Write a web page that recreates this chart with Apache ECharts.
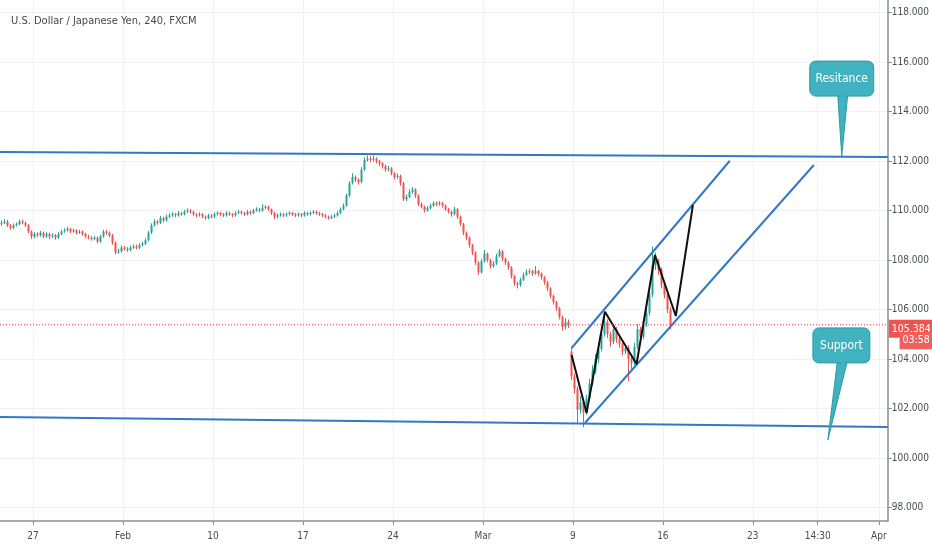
<!DOCTYPE html>
<html><head><meta charset="utf-8">
<script src="https://cdn.jsdelivr.net/npm/echarts@6/dist/echarts.min.js"></script>
<style>html,body{margin:0;padding:0;background:#fff}#c{width:932px;height:550px}</style>
</head><body><div id="c"></div>
<script>
const chartTitle = 'U.S. Dollar / Japanese Yen, 240, FXCM';
// x axis in trading days since Mon 27 Jan (weekends removed)
const xTickValues = [0, 5, 10, 15, 20, 25, 30, 35, 40, 43.604, 47];
const xTickLabels = ['27', 'Feb', '10', '17', '24', 'Mar', '9', '16', '23', '14:30', 'Apr'];
const yTickValues = [98, 100, 102, 104, 106, 108, 110, 112, 114, 116, 118];
const xRange = [-1.8333, 47.5];
const candleStart = -1.75;      // time of first 4h candle (trading days)
const candleStep = 1 / 6;       // 4 hours

const opens = [109.45,109.50,109.55,109.40,109.30,109.40,109.45,109.55,109.50,109.40,109.15,108.95,109.05,109.00,109.10,108.95,109.05,108.95,109.00,108.90,
109.05,109.15,109.20,109.25,109.15,109.20,109.10,109.15,109.05,108.95,108.90,108.85,108.90,108.75,108.95,109.15,109.10,109.00,108.70,108.30,
108.35,108.50,108.45,108.40,108.50,108.55,108.50,108.60,108.65,108.80,109.10,109.40,109.55,109.50,109.70,109.60,109.75,109.80,109.85,109.80,
109.90,109.85,109.95,110.00,109.95,109.85,109.80,109.85,109.75,109.70,109.80,109.75,109.85,109.90,109.85,109.80,109.90,109.85,109.80,109.90,
109.95,109.90,109.85,109.95,109.90,110.00,110.05,110.00,110.10,110.15,110.05,109.90,109.75,109.80,109.85,109.80,109.85,109.90,109.85,109.80,
109.85,109.80,109.90,109.85,109.90,109.95,109.90,109.85,109.80,109.75,109.70,109.75,109.80,109.90,110.05,110.20,110.60,111.10,111.35,111.25,
111.15,111.65,112.05,112.10,112.05,112.10,112.00,111.90,111.80,111.65,111.70,111.50,111.35,111.40,111.10,110.45,110.55,110.75,110.85,110.60,
110.25,110.15,110.00,110.10,110.20,110.30,110.25,110.30,110.20,110.05,109.95,109.85,110.05,109.75,109.45,109.10,108.90,108.60,108.30,107.90,
107.50,107.95,108.25,108.00,107.75,107.85,108.15,108.35,108.05,107.90,107.70,107.35,107.05,107.00,107.20,107.40,107.50,107.55,107.45,107.55,
107.45,107.30,107.10,106.85,106.55,106.30,106.05,105.70,105.30,105.50,104.30,103.30,102.80,101.95,102.25,101.85,102.40,103.00,103.50,104.00,
104.40,105.00,105.50,105.00,104.70,105.20,104.80,104.60,104.30,104.45,104.00,103.85,104.50,105.20,104.90,105.40,105.85,106.60,107.80,107.95,
107.60,107.00,106.60,106.00];
const closes = [109.50,109.55,109.40,109.30,109.40,109.45,109.55,109.50,109.40,109.15,108.95,109.05,109.00,109.10,108.95,109.05,108.95,109.00,108.90,109.05,
109.15,109.20,109.25,109.15,109.20,109.10,109.15,109.05,108.95,108.90,108.85,108.90,108.75,108.95,109.15,109.10,109.00,108.70,108.30,108.35,
108.50,108.45,108.40,108.50,108.55,108.50,108.60,108.65,108.80,109.10,109.40,109.55,109.50,109.70,109.60,109.75,109.80,109.85,109.80,109.90,
109.85,109.95,110.00,109.95,109.85,109.80,109.85,109.75,109.70,109.80,109.75,109.85,109.90,109.85,109.80,109.90,109.85,109.80,109.90,109.95,
109.90,109.85,109.95,109.90,110.00,110.05,110.00,110.10,110.15,110.05,109.90,109.75,109.80,109.85,109.80,109.85,109.90,109.85,109.80,109.85,
109.80,109.90,109.85,109.90,109.95,109.90,109.85,109.80,109.75,109.70,109.75,109.80,109.90,110.05,110.20,110.60,111.10,111.35,111.25,111.15,
111.65,112.05,112.10,112.05,112.10,112.00,111.90,111.80,111.65,111.70,111.50,111.35,111.40,111.10,110.45,110.55,110.75,110.85,110.60,110.25,
110.15,110.00,110.10,110.20,110.30,110.25,110.30,110.20,110.05,109.95,109.85,110.05,109.75,109.45,109.10,108.90,108.60,108.30,107.90,107.50,
107.95,108.25,108.00,107.75,107.85,108.15,108.35,108.05,107.90,107.70,107.35,107.05,107.00,107.20,107.40,107.50,107.55,107.45,107.55,107.45,
107.30,107.10,106.85,106.55,106.30,106.05,105.70,105.30,105.50,105.40,103.30,102.80,101.95,102.25,101.85,102.40,103.00,103.50,104.00,104.40,
105.00,105.50,105.00,104.70,105.20,104.80,104.60,104.30,104.45,104.00,103.85,104.50,105.20,104.90,105.40,105.85,106.60,107.80,107.95,107.60,
107.00,106.60,106.00,105.384];
const highs = [109.60,109.65,109.62,109.45,109.48,109.52,109.64,109.62,109.55,109.45,109.20,109.12,109.12,109.18,109.15,109.12,109.10,109.08,109.05,109.12,
109.22,109.28,109.33,109.30,109.27,109.25,109.22,109.20,109.10,109.02,108.97,108.98,108.95,109.02,109.22,109.22,109.15,109.05,108.75,108.45,
108.58,108.57,108.52,108.58,108.63,108.62,108.68,108.73,108.88,109.18,109.48,109.65,109.62,109.78,109.75,109.83,109.88,109.93,109.90,109.98,
109.95,110.03,110.08,110.06,110.00,109.90,109.93,109.90,109.80,109.87,109.86,109.92,109.97,109.95,109.90,109.97,109.95,109.90,109.97,110.02,
110.00,109.95,110.02,110.00,110.07,110.13,110.10,110.25,110.22,110.20,110.08,109.95,109.88,109.92,109.90,109.92,109.97,109.95,109.90,109.92,
109.90,109.97,109.95,109.97,110.02,110.00,109.95,109.90,109.85,109.80,109.82,109.87,109.97,110.12,110.28,110.68,111.18,111.50,111.42,111.30,
111.75,112.15,112.22,112.20,112.22,112.15,112.05,111.95,111.85,111.80,111.75,111.55,111.50,111.45,111.15,110.65,110.85,110.95,110.90,110.65,
110.32,110.20,110.18,110.28,110.38,110.37,110.38,110.35,110.25,110.10,110.00,110.15,110.10,109.80,109.50,109.15,108.95,108.65,108.35,107.95,
108.05,108.40,108.30,108.05,107.95,108.25,108.45,108.40,108.10,107.95,107.75,107.40,107.12,107.28,107.50,107.62,107.65,107.60,107.75,107.60,
107.50,107.35,107.15,106.90,106.60,106.35,106.10,105.75,105.65,105.60,104.45,103.40,102.90,102.50,102.35,102.55,103.20,103.75,104.20,104.65,
105.20,105.90,105.60,105.10,105.35,105.30,104.95,104.70,104.60,104.55,104.10,104.65,105.40,105.30,105.55,106.40,106.80,108.55,108.30,108.05,
107.70,107.10,106.70,106.10];
const lows = [109.38,109.45,109.33,109.22,109.25,109.35,109.40,109.44,109.34,109.08,108.85,108.88,108.92,108.95,108.88,108.90,108.85,108.90,108.82,108.85,
109.00,109.10,109.15,109.08,109.10,109.03,109.05,108.98,108.88,108.83,108.78,108.80,108.68,108.70,108.90,109.02,108.92,108.62,108.22,108.25,
108.30,108.38,108.33,108.35,108.45,108.43,108.45,108.55,108.60,108.75,109.05,109.35,109.42,109.45,109.52,109.55,109.70,109.75,109.73,109.75,
109.78,109.80,109.90,109.88,109.78,109.72,109.75,109.68,109.62,109.65,109.68,109.70,109.80,109.78,109.73,109.75,109.78,109.73,109.75,109.85,
109.83,109.78,109.80,109.83,109.85,109.95,109.93,109.95,110.05,109.98,109.82,109.65,109.68,109.75,109.73,109.75,109.80,109.78,109.73,109.75,
109.73,109.75,109.78,109.80,109.85,109.83,109.78,109.73,109.68,109.63,109.65,109.70,109.75,109.85,110.00,110.15,110.55,111.05,111.15,111.05,
111.10,111.60,111.98,111.95,111.98,111.90,111.80,111.70,111.55,111.58,111.42,111.25,111.28,111.00,110.38,110.38,110.50,110.68,110.50,110.18,
110.08,109.92,109.95,110.05,110.15,110.18,110.20,110.12,109.98,109.88,109.75,109.80,109.65,109.38,109.00,108.80,108.50,108.20,107.80,107.40,
107.45,107.90,107.90,107.65,107.68,107.80,108.10,107.95,107.80,107.60,107.25,106.95,106.85,106.92,107.15,107.35,107.42,107.35,107.40,107.35,
107.20,107.00,106.75,106.45,106.20,105.95,105.60,105.15,105.20,105.25,103.15,102.60,101.40,101.80,101.25,101.75,102.30,102.90,103.40,103.85,
104.30,104.90,104.85,104.50,104.60,104.65,104.45,104.15,104.20,103.10,103.60,103.75,104.40,104.75,104.80,105.30,105.75,106.50,107.60,107.40,
106.85,106.45,105.85,105.20];

// drawn trend lines: [trading day, price]
const resistanceLine = [[-1.8333, 112.364], [47.5, 112.162]];
const supportLine = [[-1.8333, 101.657], [47.5, 101.253]];
const channelUpper = [[29.93, 104.444], [38.72, 112.01]];
const channelLower = [[30.67, 101.414], [43.39, 111.84]];
const zigzag = [[29.93, 104.162], [30.76, 101.818], [31.78, 105.911], [33.54, 103.798], [34.56, 108.202], [35.72, 105.737], [36.67, 110.222]];
const lastPrice = 105.384;
const countdown = '03:58';
const calloutTexts = ['Resitance', 'Support'];
const calloutTips = [[44.94, 112.2], [44.17, 100.73]];
const calloutBoxes = [[44.94, 115.33], [44.92, 104.55]];

const FONT = "'DejaVu Sans Condensed', 'Liberation Sans', sans-serif";
const candleData = opens.map((o, i) => [candleStart + i * candleStep, o, closes[i], lows[i], highs[i]]);
const calloutData = calloutTexts.map((t, i) => [calloutTips[i][0], calloutTips[i][1], calloutBoxes[i][0], calloutBoxes[i][1], t]);
const priceLine = [[xRange[0], lastPrice], [xRange[1], lastPrice]];

const chart = echarts.init(document.getElementById('c'), null, {renderer: 'canvas'});
const gridColor = '#eef1f5';
const axisColor = '#8a8d96';
chart.setOption({
  animation: false,
  backgroundColor: '#ffffff',
  title: {text: chartTitle, left: 6, top: 11, textStyle: {fontSize: 11, fontWeight: 'normal', color: '#434651', fontFamily: FONT}},
  grid: {left: 0, right: 44, top: 0, bottom: 29},
  xAxis: {
    type: 'value', min: xRange[0], max: xRange[1],
    axisLine: {show: true, onZero: false, lineStyle: {color: axisColor, width: 1.5}},
    axisTick: {show: true, length: 4, customValues: xTickValues, lineStyle: {color: axisColor}},
    axisLabel: {customValues: xTickValues, color: '#4a4d57', fontSize: 10, fontFamily: FONT, margin: 10,
      formatter: v => { let k = 0; xTickValues.forEach((t, i) => { if (Math.abs(t - v) < Math.abs(xTickValues[k] - v)) k = i; }); return xTickLabels[k]; }},
    splitLine: {show: true, lineStyle: {color: gridColor, width: 1}}
  },
  yAxis: {
    type: 'value', position: 'right', min: 97.455, max: 118.505, scale: true,
    axisLine: {show: true, onZero: false, lineStyle: {color: axisColor, width: 1.5}},
    axisTick: {show: true, length: 4, customValues: yTickValues, lineStyle: {color: axisColor}},
    axisLabel: {customValues: yTickValues, color: '#4a4d57', fontSize: 10, fontFamily: FONT, margin: 4,
      formatter: v => v.toFixed(3)},
    splitLine: {show: true, lineStyle: {color: gridColor, width: 1}}
  },
  series: [
    {
      type: 'custom', name: 'USDJPY', data: candleData, encode: {x: 0, y: [1, 2, 3, 4]}, z: 2,
      renderItem: (params, api) => {
        const x = api.value(0), o = api.value(1), c = api.value(2), l = api.value(3), h = api.value(4);
        const pO = api.coord([x, o]), pC = api.coord([x, c]), pL = api.coord([x, l]), pH = api.coord([x, h]);
        const col = c >= o ? '#26a69a' : '#ef5350';
        const px = Math.round(pO[0]) + 0.5;
        const top = Math.min(pO[1], pC[1]), bot = Math.max(pO[1], pC[1]);
        return {type: 'group', children: [
          {type: 'line', shape: {x1: px, y1: pH[1], x2: px, y2: pL[1]}, style: {stroke: col, lineWidth: 1}},
          {type: 'rect', shape: {x: px - 1, y: top, width: 2, height: Math.max(1, bot - top)}, style: {fill: col}}
        ]};
      }
    },
    {type: 'line', data: resistanceLine, showSymbol: false, lineStyle: {color: '#3178c6', width: 2}, z: 3},
    {type: 'line', data: supportLine, showSymbol: false, lineStyle: {color: '#3178c6', width: 2}, z: 3},
    {type: 'line', data: channelUpper, showSymbol: false, lineStyle: {color: '#3178c6', width: 2}, z: 3},
    {type: 'line', data: channelLower, showSymbol: false, lineStyle: {color: '#3178c6', width: 2}, z: 3},
    {type: 'line', data: zigzag, showSymbol: false, lineStyle: {color: '#111111', width: 2}, z: 4},
    {
      type: 'line', data: priceLine, showSymbol: false, z: 6, clip: false,
      lineStyle: {color: '#f23645', width: 1, type: [1, 2]},
      endLabel: {
        show: true, distance: 1, offset: [0, 10],
        formatter: '{a|' + lastPrice.toFixed(3) + '}\n{b|' + countdown + '}',
        rich: {
          a: {backgroundColor: '#ef5350', color: '#fff', fontSize: 10.5, fontFamily: FONT, width: 38, padding: [4, 3, 3, 3], align: 'left', lineHeight: 12},
          b: {backgroundColor: '#f0605d', color: '#fff', fontSize: 10.5, fontFamily: FONT, padding: [3, 3, 3, 3], align: 'right', lineHeight: 12}
        }
      }
    },
    {
      type: 'custom', data: calloutData, z: 5, encode: {x: [0, 2], y: [1, 3]},
      renderItem: (params, api) => {
        const tip = api.coord([api.value(0), api.value(1)]);
        const box = api.coord([api.value(2), api.value(3)]);
        const text = calloutTexts[params.dataIndex];
        const w = text.length > 7 ? 64 : 57, h = 35;
        const bx = box[0] - w / 2, by = box[1] - h / 2;
        return {type: 'group', children: [
          {type: 'polygon', shape: {points: [[box[0] - 4, by + h - 2], [box[0] + 6, by + h - 2], tip]},
            style: {fill: '#40b2c0', stroke: '#2a9aa8', lineWidth: 1}},
          {type: 'rect', shape: {x: bx, y: by, width: w, height: h, r: 6}, style: {fill: '#40b2c0', stroke: '#2a9aa8', lineWidth: 1}},
          {type: 'polygon', shape: {points: [[box[0] - 3, by + h - 3], [box[0] + 5, by + h - 3], [box[0] + 1, by + h + 2]]},
            style: {fill: '#40b2c0'}},
          {type: 'text', style: {text: text, x: box[0], y: box[1], align: 'center', verticalAlign: 'middle',
            fill: '#ffffff', fontSize: 12, fontFamily: FONT}}
        ]};
      }
    }
  ]
});
</script>
</body></html>
